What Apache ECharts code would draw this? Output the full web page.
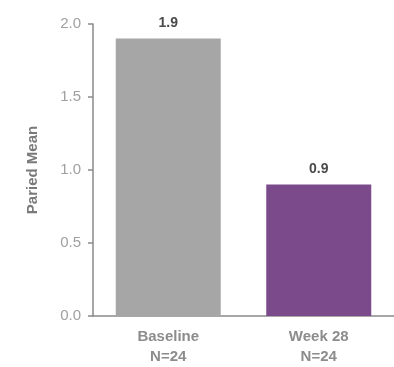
<!DOCTYPE html>
<html>
<head>
<meta charset="utf-8">
<script src="https://cdn.jsdelivr.net/npm/echarts@6/dist/echarts.min.js"></script>
<style>
  html, body { margin: 0; padding: 0; background: #ffffff; }
  #chart { width: 394px; height: 367px; }
</style>
</head>
<body>
<div id="chart"></div>
<script>
// Paired mean at each visit
const categories = ['Baseline', 'Week 28'];
const sampleSizes = [24, 24];
const pairedMeans = [1.9, 0.9];
const barColors = ['#a6a6a6', '#7b4a8b'];
const yTicks = [0, 0.5, 1.0, 1.5, 2.0];

const font = '"Liberation Sans", Arial, sans-serif';

const chart = echarts.init(document.getElementById('chart'), null, { renderer: 'canvas' });

chart.setOption({
  animation: false,
  backgroundColor: '#ffffff',
  grid: { left: 93, top: 24, bottom: 48, width: 322, containLabel: false },
  xAxis: {
    type: 'category',
    data: categories.map((c, i) => c + '\nN=' + sampleSizes[i]),
    axisLine: { show: true, lineStyle: { color: '#8a8a8a', width: 1.5 } },
    axisTick: { show: false },
    axisLabel: {
      margin: 11,
      color: '#8c8c8c',
      fontFamily: font,
      fontWeight: 'bold',
      fontSize: 15,
      lineHeight: 20
    }
  },
  yAxis: {
    type: 'value',
    min: yTicks[0],
    max: yTicks[yTicks.length - 1],
    interval: 0.5,
    name: 'Paried Mean',
    nameLocation: 'middle',
    nameGap: 53,
    nameTextStyle: { color: '#7a7a7a', fontFamily: font, fontWeight: 'bold', fontSize: 15 },
    axisLine: { show: true, lineStyle: { color: '#8a8a8a', width: 1.5 } },
    axisTick: { show: true, length: 5, lineStyle: { color: '#8a8a8a', width: 1.5 } },
    splitLine: { show: false },
    axisLabel: {
      margin: 12,
      color: '#a0a0a0',
      fontFamily: font,
      fontSize: 15,
      formatter: v => v.toFixed(1)
    }
  },
  series: [{
    type: 'bar',
    barWidth: 105,
    data: pairedMeans.map((v, i) => ({ value: v, itemStyle: { color: barColors[i] } })),
    label: {
      show: true,
      position: 'top',
      distance: 8,
      color: '#4a4a4a',
      fontFamily: font,
      fontWeight: 'bold',
      fontSize: 14,
      formatter: p => p.value.toFixed(1)
    }
  }]
});
</script>
</body>
</html>
